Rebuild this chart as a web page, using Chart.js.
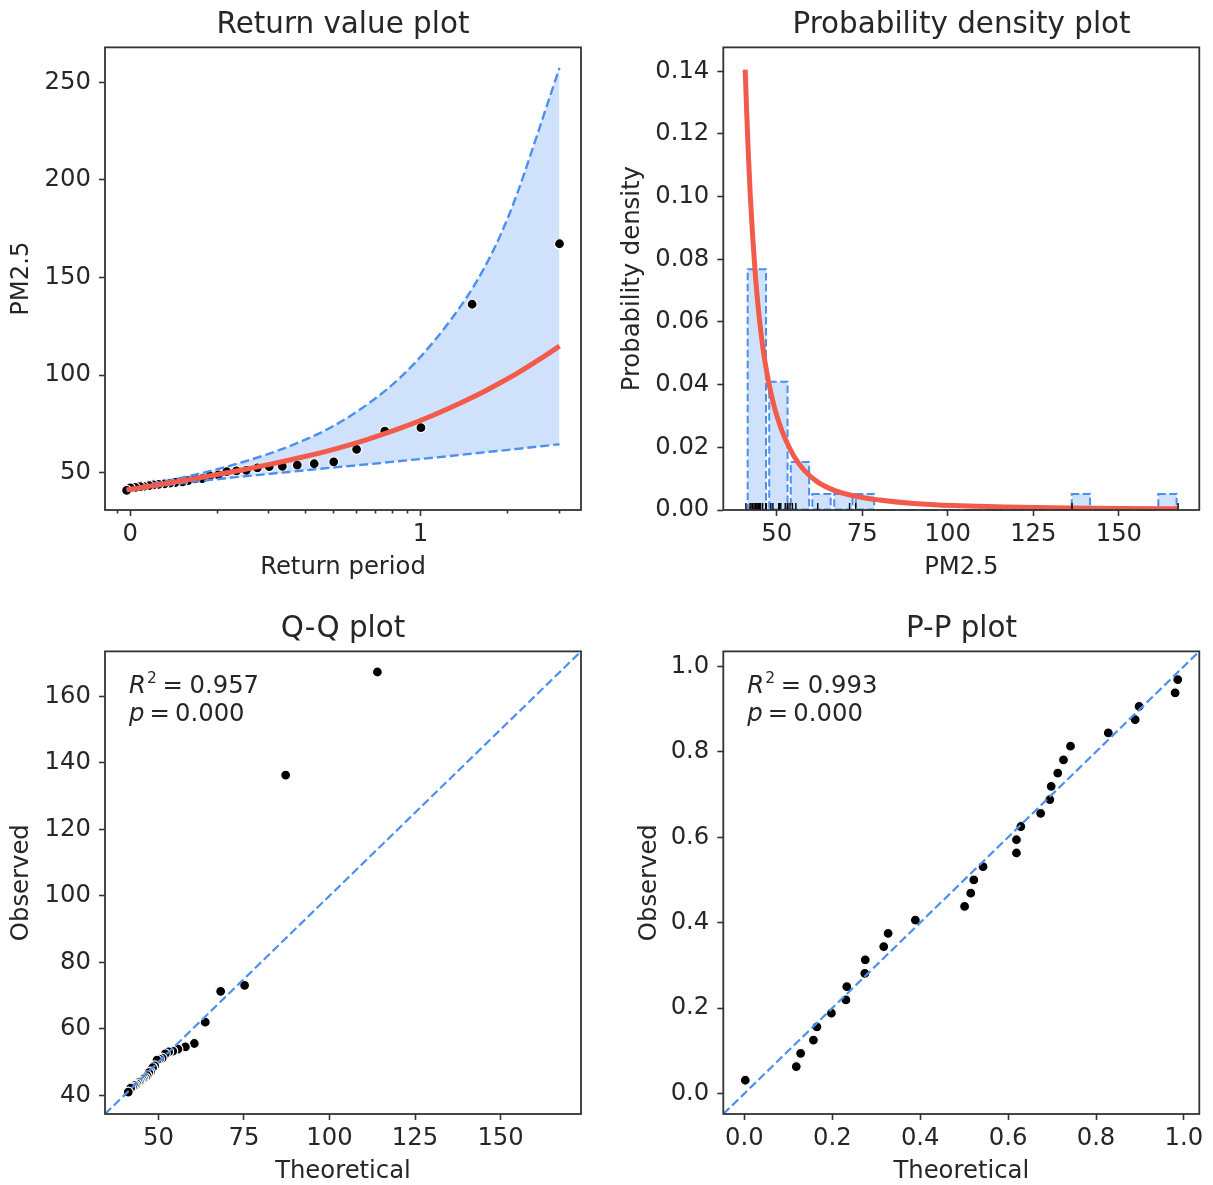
<!DOCTYPE html>
<html>
<head>
<meta charset="utf-8">
<script src="https://cdn.jsdelivr.net/npm/chart.js@4.4.1/dist/chart.umd.min.js"></script>
<style>
  html, body { margin: 0; padding: 0; background: #fff; overflow: hidden; width: 1213px; height: 1185px; }
  canvas { position: absolute; }
</style>
</head>
<body>
<canvas id="rv" width="686" height="604" style="left:0px;top:0px"></canvas>
<canvas id="pdf" width="723" height="604" style="left:600px;top:0px"></canvas>
<canvas id="qq" width="686" height="604" style="left:0px;top:604px"></canvas>
<canvas id="pp" width="723" height="604" style="left:600px;top:604px"></canvas>
<script>
// ---- data ----

// observed PM2.5 maxima, largest first, and their empirical return periods
const returnPeriods = [30.1, 15.05, 10.03, 7.53, 6.02, 5.02, 4.3, 3.76, 3.34, 3.01, 2.74, 2.51, 2.32, 2.15, 2.01, 1.88,
  1.77, 1.67, 1.58, 1.51, 1.43, 1.37, 1.31, 1.25, 1.2, 1.16, 1.11, 1.08, 1.04, 1.0, 0.971];
const observed = [167.3, 136.3, 73.1, 71.3, 62.0, 55.6, 54.6, 53.9, 53.3, 53.1, 52.5, 51.2, 50.9, 50.6, 48.9, 48.3,
  47.0, 46.8, 45.9, 45.3, 45.0, 44.7, 44.3, 44.0, 43.8, 43.4, 43.0, 42.9, 42.5, 42.2, 41.0];

// fitted return level curve and its confidence band
const curveT = [0.971, 1.34, 1.74, 2.27, 2.96, 3.86, 5.02, 6.54, 8.52, 11.1, 14.5, 16.5, 18.9, 21.5, 24.6, 27.3, 30.1];
const fitLevel = [41.2, 44.6, 47.5, 50.6, 54.0, 57.8, 62.0, 67.0, 72.8, 79.6, 87.4, 91.5, 96.2, 100.9, 106.3, 110.6, 114.9];
const upperCI = [41.6, 45.8, 49.6, 54.1, 59.4, 65.9, 74.0, 84.9, 98.8, 117.2, 140.4, 154.4, 172.1, 192.8, 218.2, 238.5, 257.4];
const lowerCI = [40.9, 43.7, 45.7, 47.6, 49.3, 51.0, 52.7, 54.3, 56.0, 57.7, 59.5, 60.4, 61.3, 62.2, 63.2, 63.9, 64.6];

// histogram (density) + fitted pdf
const binCenters = [44.2, 50.5, 56.8, 63.1, 69.5, 75.8, 82.1, 88.4, 94.7, 101.0, 107.4, 113.7, 120.0, 126.3, 132.6,
  138.9, 145.3, 151.6, 157.9, 164.2];
const binDensity = [0.0768, 0.0409, 0.0153, 0.0051, 0.0051, 0.0051, 0, 0, 0, 0, 0, 0, 0, 0, 0, 0.0051, 0, 0, 0, 0.0051];
const pdfX = [40.8, 41.2, 41.7, 42.3, 43.0, 43.8, 44.7, 45.6, 46.6, 47.7, 49.0, 50.5, 52.5, 55, 58, 62, 67, 73, 80, 90,
  102, 117, 135, 150, 167.3];
const pdfY = [0.1405, 0.128, 0.114, 0.100, 0.087, 0.0745, 0.0635, 0.0548, 0.0472, 0.0405, 0.0342, 0.0285, 0.0227,
  0.0172, 0.0127, 0.0089, 0.0062, 0.0044, 0.0032, 0.0021, 0.0014, 0.00095, 0.00065, 0.0005, 0.0004];

// Q-Q: theoretical quantiles matching `observed`
const theoretical = [114.0, 87.2, 75.2, 68.2, 63.7, 60.5, 57.9, 55.7, 54.2, 53.0, 52.0, 51.1, 50.3, 49.6, 48.9, 48.3,
  47.7, 47.2, 46.7, 46.2, 45.7, 45.3, 44.9, 44.5, 44.1, 43.7, 43.3, 42.9, 42.4, 41.9, 41.2];

// P-P: model probability vs empirical probability
const ppModel = [0.002, 0.118, 0.128, 0.157, 0.165, 0.198, 0.231, 0.233, 0.274, 0.275, 0.317, 0.327, 0.389, 0.501,
  0.515, 0.522, 0.543, 0.619, 0.619, 0.629, 0.674, 0.695, 0.698, 0.713, 0.726, 0.742, 0.828, 0.889, 0.898, 0.980, 0.986];
const ppEmpirical = [0.031, 0.063, 0.094, 0.125, 0.156, 0.188, 0.219, 0.25, 0.281, 0.313, 0.344, 0.375, 0.406, 0.438,
  0.469, 0.5, 0.531, 0.563, 0.594, 0.625, 0.656, 0.688, 0.719, 0.75, 0.781, 0.813, 0.844, 0.875, 0.906, 0.938, 0.969];

// axis limits and ticks
const rvMajorTicks = [1, 10];
const rvMinorTicks = [0.9, 2, 3, 4, 5, 6, 7, 8, 9, 20, 30];
const pmLimits = [34.4, 173.5];
const ppLimits = [-0.048, 1.035];

// ---- styling ----
const INK = '#262626';
const FRAME = '#333333';
const RED = '#f25a4b';
const BLUE = '#4a90f0';
const FILL = 'rgba(74,144,240,0.26)';
const FS = 24.3;

Chart.defaults.font.family = 'DejaVu Sans';
Chart.defaults.color = INK;
Chart.defaults.animation = false;
Chart.defaults.plugins.legend.display = false;
Chart.defaults.plugins.tooltip.enabled = false;

function pts(xs, ys) {
  return xs.map((x, i) => ({ x: x, y: ys[i] }));
}

function makeScale(o) {
  const s = {
    type: o.type || 'linear',
    axis: o.axis,
    position: o.position,
    min: o.min,
    max: o.max,
    offset: false,
    weight: o.weight || 0,
    grid: { display: true, offset: false, drawOnChartArea: false, drawTicks: true,
            tickLength: o.tickLength || 6, tickWidth: 1.6, tickColor: FRAME },
    border: { display: false },
    ticks: { display: o.showLabels !== false, font: { size: FS }, color: INK, padding: o.tickPad || 0,
             includeBounds: false, autoSkip: false, maxRotation: 0, minRotation: 0 },
    title: { display: !!o.title, text: o.title || '', font: { size: FS }, color: INK,
             padding: o.axis === 'x' ? { top: 0, bottom: o.titlePad || 0 } : { top: o.titlePad || 0, bottom: 0 } },
    afterFit(scale) {
      if (scale.isHorizontal()) scale.height = o.size; else scale.width = o.size;
    }
  };
  if (o.step) s.ticks.stepSize = o.step;
  if (o.format) s.ticks.callback = o.format;
  if (o.tickValues) s.afterBuildTicks = (scale) => { scale.ticks = o.tickValues.map(v => ({ value: v })); };
  return s;
}

// empty right-hand axis: keeps the plot box off the right edge so the title centres over it
function spacer(width) {
  return {
    type: 'linear', axis: 'y', position: 'right', min: 0, max: 1,
    grid: { display: false }, border: { display: false }, ticks: { display: false },
    afterFit(scale) { scale.width = width; }
  };
}

function titleOpts(text) {
  return { display: true, text: text, color: INK, font: { size: 29.4, weight: 'normal' },
           padding: { top: 7.6, bottom: 4.5 } };
}

// black frame round the plot area
const framePlugin = {
  id: 'frame',
  afterDatasetsDraw(chart) {
    const { ctx, chartArea: a } = chart;
    ctx.save();
    ctx.strokeStyle = FRAME;
    ctx.lineWidth = 1.8;
    ctx.strokeRect(a.left, a.top, a.right - a.left, a.bottom - a.top);
    ctx.restore();
  }
};

// dashed outline on the histogram bars
const dashedBars = {
  id: 'dashedBars',
  afterDatasetDraw(chart, args) {
    if (args.meta.type !== 'bar') return;
    const ctx = chart.ctx;
    ctx.save();
    ctx.strokeStyle = BLUE;
    ctx.lineWidth = 2;
    ctx.setLineDash([7.5, 3.5]);
    args.meta.data.forEach(bar => {
      const p = bar.getProps(['x', 'y', 'base', 'width'], true);
      ctx.strokeRect(p.x - p.width / 2, p.y, p.width, p.base - p.y);
    });
    ctx.restore();
  }
};

// "R^2 = ..." and "p = ..." text in the top-left corner
function statsText(r2, p) {
  return {
    id: 'stats',
    afterDraw(chart) {
      const { ctx, chartArea: a } = chart;
      const x0 = a.left + 24, y1 = a.top + 41.5, y2 = a.top + 69.5;
      ctx.save();
      ctx.fillStyle = INK;
      ctx.textAlign = 'left';
      ctx.textBaseline = 'alphabetic';
      ctx.font = 'italic ' + FS + 'px "DejaVu Sans"';
      ctx.fillText('R', x0, y1);
      ctx.fillText('p', x0, y2);
      ctx.font = '15.5px "DejaVu Sans"';
      ctx.fillText('2', x0 + 18, y1 - 9.5);
      ctx.font = FS + 'px "DejaVu Sans"';
      ctx.fillText('=', x0 + 33.5, y1);
      ctx.fillText(r2, x0 + 60.5, y1);
      ctx.fillText('=', x0 + 20.5, y2);
      ctx.fillText(p, x0 + 46, y2);
      ctx.restore();
    }
  };
}

const dotStyle = { pointRadius: 5, pointBackgroundColor: '#000', pointBorderColor: '#fff', pointBorderWidth: 1.2 };

// ---- Return value plot ----
// lines sit above the dots, as in the original
new Chart(document.getElementById('rv'), {
  type: 'scatter',
  data: {
    datasets: [
      Object.assign({ type: 'scatter', data: pts(returnPeriods, observed), order: 4 }, dotStyle),
      { type: 'line', data: pts(curveT, fitLevel), borderColor: RED, borderWidth: 5, pointRadius: 0,
        cubicInterpolationMode: 'monotone', fill: false, order: 0 },
      { type: 'line', data: pts(curveT, upperCI), borderColor: BLUE, borderWidth: 2.4, borderDash: [9, 4],
        pointRadius: 0, cubicInterpolationMode: 'monotone', fill: '+1', backgroundColor: FILL, order: 1 },
      { type: 'line', data: pts(curveT, lowerCI), borderColor: BLUE, borderWidth: 2.4, borderDash: [9, 4],
        pointRadius: 0, cubicInterpolationMode: 'monotone', fill: false, order: 2 }
    ]
  },
  options: {
    responsive: false,
    layout: { padding: 0 },
    plugins: { title: titleOpts('Return value plot'), filler: { drawTime: 'beforeDatasetsDraw' } },
    scales: {
      x: makeScale({ type: 'logarithmic', axis: 'x', position: 'bottom', min: 0.818, max: 35.7, weight: 1,
        tickValues: rvMajorTicks, format: v => (v === 1 ? '0' : v === 10 ? '1' : ''),
        tickPad: 4.2, size: 94, title: 'Return period', titlePad: 21.5 }),
      x2: makeScale({ type: 'logarithmic', axis: 'x', position: 'bottom', min: 0.818, max: 35.7, weight: 0,
        tickValues: rvMinorTicks, showLabels: false, tickLength: 3.5, size: 0 }),
      y: makeScale({ axis: 'y', position: 'left', min: 30.9, max: 267.9, step: 50, tickPad: 8, size: 105,
        title: 'PM2.5', titlePad: 6.8 }),
      pad: spacer(105)
    }
  },
  plugins: [framePlugin]
});

// ---- Probability density plot ----
new Chart(document.getElementById('pdf'), {
  type: 'bar',
  data: {
    datasets: [
      { type: 'line', data: observed.map(v => ({ x: v, y: 0 })), showLine: false, pointStyle: 'line',
        pointRotation: 90, pointRadius: 7, pointBorderWidth: 1.4, pointBorderColor: '#000', clip: 0, order: 0 },
      { type: 'line', data: pts(pdfX, pdfY), borderColor: RED, borderWidth: 5, pointRadius: 0,
        cubicInterpolationMode: 'monotone', fill: false, order: 1 },
      { type: 'bar', data: pts(binCenters, binDensity), backgroundColor: FILL, borderWidth: 0,
        barPercentage: 0.85, categoryPercentage: 1, order: 2 }
    ]
  },
  options: {
    responsive: false,
    layout: { padding: 0 },
    plugins: { title: titleOpts('Probability density plot') },
    scales: {
      x: makeScale({ axis: 'x', position: 'bottom', min: pmLimits[0], max: pmLimits[1], step: 25,
        tickPad: 4.2, size: 94, title: 'PM2.5', titlePad: 21.5 }),
      y: makeScale({ axis: 'y', position: 'left', min: 0, max: 0.1476, step: 0.02, tickPad: 8, size: 123.3,
        format: v => v.toFixed(2), title: 'Probability density', titlePad: 18.4 }),
      pad: spacer(123.7)
    }
  },
  plugins: [dashedBars, framePlugin]
});

// ---- Q-Q plot ----
new Chart(document.getElementById('qq'), {
  type: 'scatter',
  data: {
    datasets: [
      Object.assign({ type: 'scatter', data: pts(theoretical, observed), order: 1 }, dotStyle),
      { type: 'line', data: pts(pmLimits, pmLimits), borderColor: BLUE, borderWidth: 2.2, borderDash: [8.5, 3.8],
        pointRadius: 0, fill: false, order: 0 }
    ]
  },
  options: {
    responsive: false,
    layout: { padding: 0 },
    plugins: { title: titleOpts('Q-Q plot') },
    scales: {
      x: makeScale({ axis: 'x', position: 'bottom', min: pmLimits[0], max: pmLimits[1], step: 25,
        tickPad: 4.2, size: 94, title: 'Theoretical', titlePad: 22.2 }),
      y: makeScale({ axis: 'y', position: 'left', min: pmLimits[0], max: pmLimits[1], step: 20, tickPad: 8,
        size: 105, title: 'Observed', titlePad: 6.8 }),
      pad: spacer(105)
    }
  },
  plugins: [framePlugin, statsText('0.957', '0.000')]
});

// ---- P-P plot ----
new Chart(document.getElementById('pp'), {
  type: 'scatter',
  data: {
    datasets: [
      Object.assign({ type: 'scatter', data: pts(ppModel, ppEmpirical), order: 1 }, dotStyle),
      { type: 'line', data: pts(ppLimits, ppLimits), borderColor: BLUE, borderWidth: 2.2, borderDash: [8.5, 3.8],
        pointRadius: 0, fill: false, order: 0 }
    ]
  },
  options: {
    responsive: false,
    layout: { padding: 0 },
    plugins: { title: titleOpts('P-P plot') },
    scales: {
      x: makeScale({ axis: 'x', position: 'bottom', min: ppLimits[0], max: ppLimits[1], step: 0.2,
        format: v => v.toFixed(1), tickPad: 4.2, size: 94, title: 'Theoretical', titlePad: 22.2 }),
      y: makeScale({ axis: 'y', position: 'left', min: ppLimits[0], max: ppLimits[1], step: 0.2,
        format: v => v.toFixed(1), tickPad: 8, size: 123.3, title: 'Observed', titlePad: 34.9 }),
      pad: spacer(123.7)
    }
  },
  plugins: [framePlugin, statsText('0.993', '0.000')]
});
</script>
</body>
</html>
